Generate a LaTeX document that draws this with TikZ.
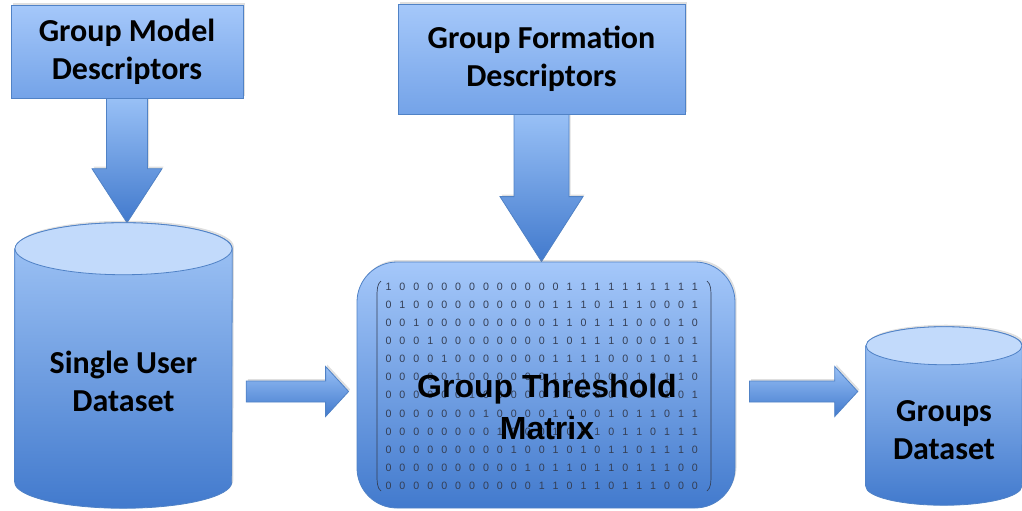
\documentclass[tikz,border=0pt]{standalone}
\usepackage{fontspec}
\setmainfont{Carlito}
\newfontfamily\arialfont{Liberation Sans}
\usetikzlibrary{calc,shadows,backgrounds}

\definecolor{boxlight}{RGB}{165,200,250}
\definecolor{boxdark}{RGB}{116,163,232}
\definecolor{flowlight}{RGB}{152,192,246}
\definecolor{flowdark}{RGB}{66,122,205}
\definecolor{edgeblue}{RGB}{80,130,198}
\definecolor{lidblue}{RGB}{194,218,251}
\definecolor{bitgray}{RGB}{52,62,84}

\tikzset{
  softshadow/.style={drop shadow={opacity=0.25,shadow xshift=1.2pt,shadow yshift=1.5pt}},
  descbox/.style={draw=edgeblue, line width=0.6pt, top color=boxlight, bottom color=boxdark, softshadow,
    align=center, inner sep=0pt, font=\bfseries\fontsize{24}{28.5}\selectfont},
  flowarrow/.style={draw=edgeblue, line width=0.6pt, top color=flowlight, bottom color=flowdark, softshadow},
  dbbody/.style={inner sep=0pt, draw=none},
  dbshell/.style={draw=edgeblue, line width=0.6pt, top color=flowlight!90!white, bottom color=flowdark, softshadow},
  dblid/.style={draw=edgeblue, line width=0.6pt, fill=lidblue},
  dblabel/.style={align=center, inner sep=0pt, font=\bfseries\fontsize{24}{28.5}\selectfont},
  gtmbox/.style={draw=edgeblue, line width=0.6pt, rounded corners=30pt, top color=boxlight, bottom color=flowdark,
    softshadow, inner sep=0pt},
  gtmlabel/.style={align=center, inner sep=0pt, font=\arialfont\bfseries\fontsize{24}{31}\selectfont},
  bit/.style={inner sep=0pt, text=bitgray, font=\arialfont\fontsize{8}{9}\selectfont}
}

% down arrow: #1 box, #2 tip, #3 half shaft, #4 half head, #5 head length
\newcommand{\vblock}[5]{%
  \path[flowarrow] ($(#1.south)+(-#3,0)$) -- ($(#1.south |- #2)+(-#3,-#5)$) -- ($(#1.south |- #2)+(-#4,-#5)$)
    -- (#1.south |- #2) -- ($(#1.south |- #2)+(#4,-#5)$) -- ($(#1.south |- #2)+(#3,-#5)$) -- ($(#1.south)+(#3,0)$) -- cycle;}
% right arrow: #1 tail side, #2 tip side, #3 level
\newcommand{\hblock}[3]{%
  \path[flowarrow] ($(#1 |- #3)+(14,-10.5)$) -- ($(#2 |- #3)+(-31,-10.5)$) -- ($(#2 |- #3)+(-31,-25)$)
    -- ($(#2 |- #3)+(-8,0)$) -- ($(#2 |- #3)+(-31,25)$) -- ($(#2 |- #3)+(-31,10.5)$) -- ($(#1 |- #3)+(14,10.5)$) -- cycle;}

\begin{document}
\begin{tikzpicture}[x=0.75pt,y=0.75pt,yscale=-1]
\useasboundingbox (0,0) rectangle (1022,511);

% Text Node
\node[descbox, minimum width=174pt, minimum height=69.75pt] (gmd) at (127,51.5) {Group Model\\Descriptors};
% Text Node
\node[descbox, minimum width=215.25pt, minimum height=82.5pt] (gfd) at (541.5,59) {Group Formation\\Descriptors};

%Shape: Can [id:single user]
\node[dbbody, minimum width=162.75pt, minimum height=174.75pt] (sud) at (123.5,365.5) {};
\path[dbshell] (sud.north west) -- (sud.south west) arc[start angle=180, end angle=0, x radius=108.5, y radius=26]
  -- (sud.north east) arc[start angle=0, end angle=-180, x radius=108.5, y radius=26] -- cycle;
\path[dblid] (sud.north) ellipse [x radius=108.5, y radius=26];
\coordinate (sudtop) at ($(sud.north)+(0,-26)$);
\node[dblabel] (sudlabel) at ($(sud.center)+(0,16)$) {Single User\\Dataset};

%Shape: Can [id:groups]
\node[dbbody, minimum width=117pt, minimum height=105pt] (gd) at (944,416) {};
\path[dbshell] (gd.north west) -- (gd.south west) arc[start angle=180, end angle=0, x radius=78, y radius=19]
  -- (gd.north east) arc[start angle=0, end angle=-180, x radius=78, y radius=19] -- cycle;
\path[dblid] (gd.north) ellipse [x radius=78, y radius=19];
\node[dblabel] (gdlabel) at ($(gd.center)+(0,14)$) {Groups\\Dataset};

%Shape: Rounded Rect [id:threshold matrix]
\node[gtmbox, minimum width=283.5pt, minimum height=184.5pt] (gtm) at (546,385) {};
\coordinate (flowline) at ($(gtm.center)+(0,6.5)$);

% matrix entries
\foreach \row [count=\r] in {
  {1,0,0,0,0,0,0,0,0,0,0,0,0,1,1,1,1,1,1,1,1,1,1},
  {0,1,0,0,0,0,0,0,0,0,0,0,1,1,1,0,1,1,1,0,0,0,1},
  {0,0,1,0,0,0,0,0,0,0,0,0,1,1,0,1,1,1,0,0,0,1,0},
  {0,0,0,1,0,0,0,0,0,0,0,0,1,0,1,1,1,0,0,0,1,0,1},
  {0,0,0,0,1,0,0,0,0,0,0,0,1,1,1,1,0,0,0,1,0,1,1},
  {0,0,0,0,0,1,0,0,0,0,0,0,1,1,1,0,0,0,1,0,1,1,0},
  {0,0,0,0,0,0,1,0,0,0,0,0,1,1,0,0,0,1,0,1,1,0,1},
  {0,0,0,0,0,0,0,1,0,0,0,0,1,0,0,0,1,0,1,1,0,1,1},
  {0,0,0,0,0,0,0,0,1,0,0,0,1,0,0,1,0,1,1,0,1,1,1},
  {0,0,0,0,0,0,0,0,0,1,0,0,1,0,1,0,1,1,0,1,1,1,0},
  {0,0,0,0,0,0,0,0,0,0,1,0,1,1,0,1,1,0,1,1,1,0,0},
  {0,0,0,0,0,0,0,0,0,0,0,1,1,0,1,1,0,1,1,1,0,0,0}}
  \foreach \b [count=\c] in \row
    \node[bit] (b\r-\c) at ({388.5+13.93*(\c-1)},{286.7+18.1*(\r-1)}) {\b};
\draw[bitgray, line width=0.5pt] (381,281) .. controls (377,284) and (377,290) .. (377,298) -- (377,474)
  .. controls (377,482) and (377,488) .. (381,491);
\draw[bitgray, line width=0.5pt] (707,281) .. controls (711,284) and (711,290) .. (711,298) -- (711,474)
  .. controls (711,482) and (711,488) .. (707,491);

% Text Node
\node[gtmlabel] (gtmlabel) at (547,407) {Group Threshold\\Matrix};

% arrows
\begin{scope}[on background layer]
\vblock{gmd}{sudtop}{20.5}{35}{54}
\vblock{gfd}{gtm.north}{27.5}{41.5}{65}
\end{scope}
\hblock{sud.east}{gtm.west}{flowline}
\hblock{gtm.east}{gd.west}{flowline}

\end{tikzpicture}
\end{document}
